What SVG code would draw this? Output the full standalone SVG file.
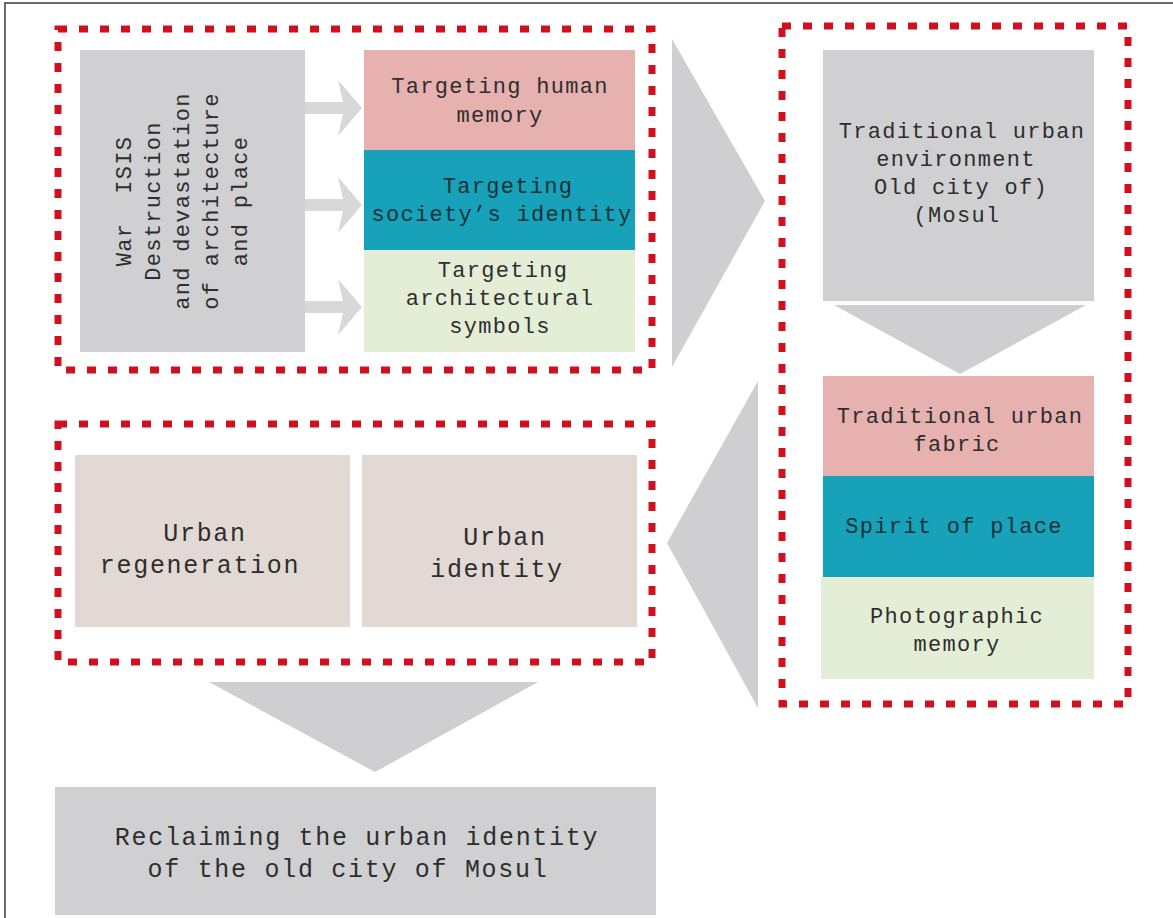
<svg xmlns="http://www.w3.org/2000/svg" width="1173" height="918" viewBox="0 0 1173 918">
<style>
.frame{fill:none;stroke:#3a3a3a;stroke-width:1.5}
.dash{fill:none;stroke:#d0101e;stroke-width:7;stroke-dasharray:9 12}
.gray{fill:#d0d0d2}
.pink{fill:#e7b1af}
.teal{fill:#17a2b9}
.green{fill:#e4eed6}
.beige{fill:#e2d9d5}
.tri{fill:#cfcfd1}
.arr{fill:#d8d8da}
text{font-family:"Liberation Mono","Courier New",monospace;fill:#2e2e2e;text-anchor:middle}
.s{font-size:22px;letter-spacing:1.3px}
.l{font-size:25px;letter-spacing:1.7px}
.dk{fill:#14323a}
</style>
<rect x="0" y="0" width="1173" height="918" fill="#ffffff"/>
<path class="frame" d="M5,920 L5,3 L1173,3"/>

<g id="group-top-left">
  <rect class="dash" x="58" y="29" width="594" height="341"/>
</g>
<g id="group-right">
  <rect class="dash" x="782" y="26" width="346" height="678"/>
</g>
<g id="group-bottom-left">
  <rect class="dash" x="58" y="424" width="594" height="238"/>
</g>

<g id="connectors">
  <polygon class="arr" points="305,102 343,102 338,80 362,108 338,136 343,114 305,114"/>
  <polygon class="arr" points="305,199 343,199 338,177 362,205 338,233 343,211 305,211"/>
  <polygon class="arr" points="305,301 343,301 338,279 362,307 338,335 343,313 305,313"/>
  <polygon class="tri" points="672,39 765,201 672,367"/>
  <polygon class="tri" points="834,305 1086,305 960,374"/>
  <polygon class="tri" points="758,381 758,708 667,543"/>
  <polygon class="tri" points="209,682 538,682 375,772"/>
</g>

<g id="node-war">
  <rect class="gray" x="80" y="50" width="225" height="302"/>
  <g class="s" transform="translate(0,201)">
    <text class="s" transform="translate(131,0) rotate(-90)" xml:space="preserve">War  ISIS</text>
    <text class="s" transform="translate(160,0) rotate(-90)">Destruction</text>
    <text class="s" transform="translate(189,0) rotate(-90)">and devastation</text>
    <text class="s" transform="translate(218,0) rotate(-90)">of architecture</text>
    <text class="s" transform="translate(247,0) rotate(-90)">and place</text>
  </g>
</g>

<g id="node-human-memory">
  <rect class="pink" x="364" y="50" width="271" height="100"/>
  <text class="s" x="500" y="93">Targeting human</text>
  <text class="s" x="500" y="122">memory</text>
</g>
<g id="node-society-identity">
  <rect class="teal" x="364" y="150" width="271" height="100"/>
  <text class="s dk" x="508" y="193">Targeting</text>
  <text class="s dk" x="502" y="221">society’s identity</text>
</g>
<g id="node-arch-symbols">
  <rect class="green" x="364" y="250" width="271" height="102"/>
  <text class="s" x="503" y="277">Targeting</text>
  <text class="s" x="500" y="305">architectural</text>
  <text class="s" x="500" y="333">symbols</text>
</g>

<g id="node-traditional-env">
  <rect class="gray" x="823" y="50" width="271" height="251"/>
  <text class="s" x="962" y="138">Traditional urban</text>
  <text class="s" x="956" y="166">environment</text>
  <text class="s" x="961" y="194">Old city of)</text>
  <text class="s" x="957" y="222">(Mosul</text>
</g>
<g id="node-urban-fabric">
  <rect class="pink" x="823" y="376" width="271" height="100"/>
  <text class="s" x="960" y="423">Traditional urban</text>
  <text class="s" x="957" y="451">fabric</text>
</g>
<g id="node-spirit">
  <rect class="teal" x="823" y="476" width="271" height="101"/>
  <text class="s dk" x="954" y="533">Spirit of place</text>
</g>
<g id="node-photo-memory">
  <rect class="green" x="821" y="577" width="273" height="102"/>
  <text class="s" x="957" y="623">Photographic</text>
  <text class="s" x="957" y="651">memory</text>
</g>

<g id="node-regeneration">
  <rect class="beige" x="75" y="455" width="275" height="172"/>
  <text class="l" x="205" y="541">Urban</text>
  <text class="l" x="200" y="573">regeneration</text>
</g>
<g id="node-urban-identity">
  <rect class="beige" x="362" y="455" width="275" height="172"/>
  <text class="l" x="505" y="545">Urban</text>
  <text class="l" x="497" y="577">identity</text>
</g>

<g id="node-reclaiming">
  <rect class="gray" x="55" y="787" width="601" height="128"/>
  <text class="l" x="357" y="845">Reclaiming the urban identity</text>
  <text class="l" x="348" y="877">of the old city of Mosul</text>
</g>
</svg>
